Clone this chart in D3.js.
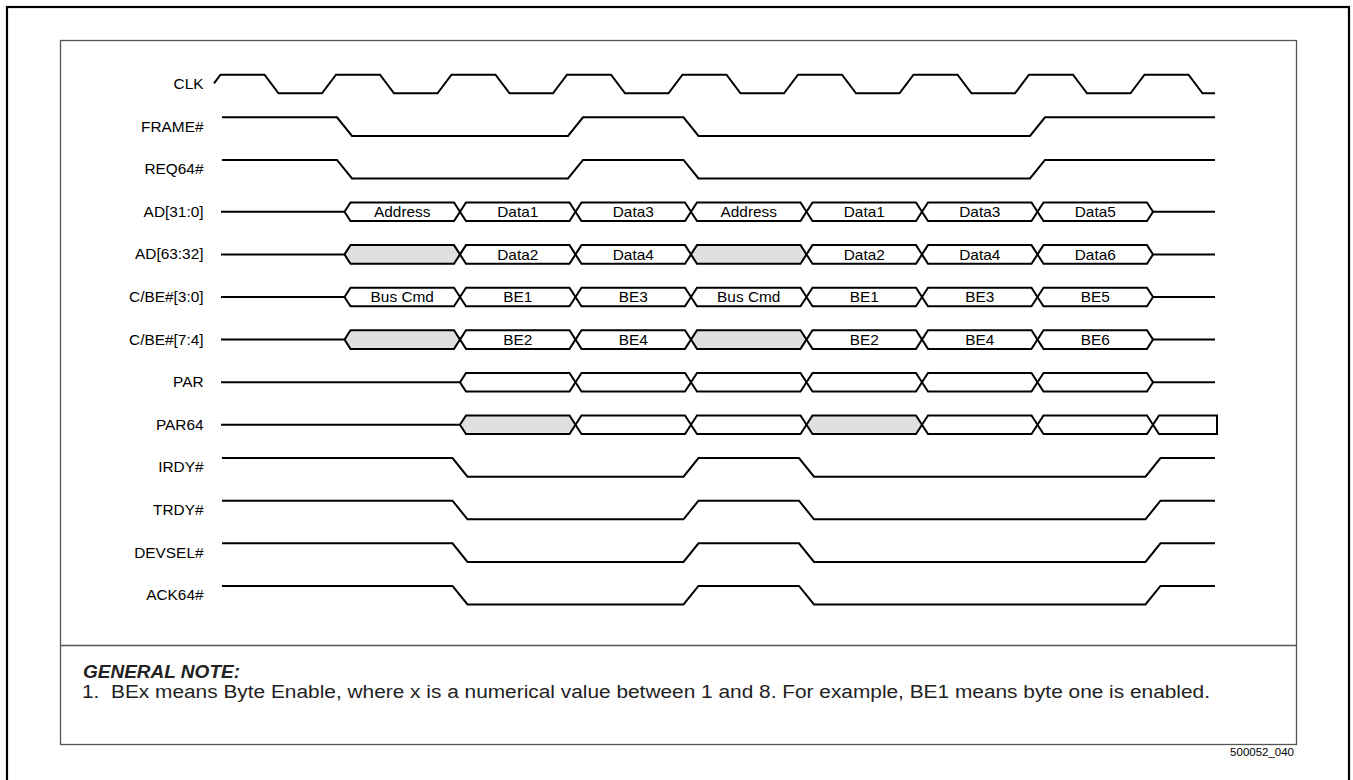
<!DOCTYPE html>
<html><head><meta charset="utf-8">
<script src="https://cdn.jsdelivr.net/npm/d3@7"></script>
<style>body{margin:0;background:#fff}svg{display:block}</style>
</head><body>
<svg id="c" width="1353" height="780"></svg>
<script>
// ---------- DATA ----------
const signals = ["CLK","FRAME#","REQ64#","AD[31:0]","AD[63:32]","C/BE#[3:0]","C/BE#[7:4]","PAR","PAR64","IRDY#","TRDY#","DEVSEL#","ACK64#"];
const clockCycles = [0,1,2,3,4,5,6,7,8];
// digital signals: start high, toggle at these clock cycles
const frameEdges  = [1,3,4,7];
const req64Edges  = [1,3,4,7];
const irdyEdges   = [2,4,5,8];
const trdyEdges   = [2,4,5,8];
const devselEdges = [2,4,5,8];
const ack64Edges  = [2,4,5,8];
// buses: first valid cycle, one entry per phase (null = shaded / not driven)
const adLowStart = 1,   adLowPhases   = ["Address","Data1","Data3","Address","Data1","Data3","Data5"];
const adHighStart = 1,  adHighPhases  = [null,"Data2","Data4",null,"Data2","Data4","Data6"];
const cbeLowStart = 1,  cbeLowPhases  = ["Bus Cmd","BE1","BE3","Bus Cmd","BE1","BE3","BE5"];
const cbeHighStart = 1, cbeHighPhases = [null,"BE2","BE4",null,"BE2","BE4","BE6"];
const parStart = 2,     parPhases     = ["","","","","",""];
const par64Start = 2,   par64Phases   = [null,"","",null,"","",""]; // last phase runs to the end
const noteTitle = "GENERAL NOTE:";
const noteText = "1.  BEx means Byte Enable, where x is a numerical value between 1 and 8. For example, BE1 means byte one is enabled.";
const figId = "500052_040";

// ---------- SCALES ----------
const svg = d3.select("#c");
const x = d3.scaleLinear().domain([0, 8]).range([229, 1153]);
const y = d3.scalePoint().domain(signals).range([84, 595.2]);
const P = x(1) - x(0);
const H = 9.3;              // half swing
const tStart = x.invert(221), tEnd = x.invert(1215);
const SX = 1.1;             // horizontal text stretch
const FS = "14px";
const FONT = "'Liberation Sans', Arial, Helvetica, sans-serif";

// frames
svg.append("rect").attr("x",7).attr("y",7).attr("width",1342).attr("height",800)
  .attr("fill","none").attr("stroke","#000").attr("stroke-width",2.2);
svg.append("rect").attr("x",60.5).attr("y",40.5).attr("width",1236).attr("height",704)
  .attr("fill","none").attr("stroke","#555").attr("stroke-width",1.3);
svg.append("line").attr("x1",60.5).attr("x2",1296.5).attr("y1",645.5).attr("y2",645.5)
  .attr("stroke","#555").attr("stroke-width",1.3);

const g = svg.append("g");
const line = d3.line();
function stroke(sel){ return sel.attr("fill","none").attr("stroke","#000").attr("stroke-width",2).attr("stroke-linejoin","miter"); }

// labels
signals.forEach(s => {
  g.append("text").attr("transform",`translate(203.5,${y(s)}) scale(${SX},1)`)
    .attr("text-anchor","end").attr("dy","0.36em")
    .style("font-family",FONT).style("font-size",FS).text(s);
});

// clock
(function(){
  const c = y("CLK"), hi = c - H, lo = c + H;
  const pts = [];
  const r0 = x(0) - 8.5 - 14;  // rise start pixel for cycle 0
  const sx = x(tStart) - 7;
  pts.push([sx, lo - (sx - r0)/14*(lo-hi)]);
  clockCycles.forEach(k => {
    const h0 = x(k) - 8.5;
    if (k > 0) pts.push([h0 - 14, lo]);
    pts.push([h0, hi]);
    pts.push([h0 + 44, hi]);
    pts.push([h0 + 58, lo]);
  });
  pts.push([x(tEnd), lo]);
  stroke(g.append("path").attr("d", line(pts)));
})();

// digital signals
function digital(name, edges){
  const c = y(name);
  let lvl = c - H;
  const pts = [[x(tStart) + 1, lvl]];
  edges.forEach(k => {
    const nl = (lvl < c) ? c + H : c - H;
    pts.push([x(k) - 7.5, lvl]);
    pts.push([x(k) + 7.5, nl]);
    lvl = nl;
  });
  pts.push([x(tEnd), lvl]);
  stroke(g.append("path").attr("d", line(pts)));
}
digital("FRAME#", frameEdges);
digital("REQ64#", req64Edges);
digital("IRDY#", irdyEdges);
digital("TRDY#", trdyEdges);
digital("DEVSEL#", devselEdges);
digital("ACK64#", ack64Edges);

// buses
function bus(name, start, phases, openEnd){
  const c = y(name), w = 6;
  stroke(g.append("path").attr("d", line([[x(tStart), c],[x(start), c]])));
  phases.forEach((lab, i) => {
    const xl = x(start + i);
    const last = openEnd && i === phases.length - 1;
    const xr = last ? x(tEnd) + 2 : x(start + i + 1);
    const pts = last
      ? [[xl,c],[xl+w,c-H],[xr,c-H],[xr,c+H],[xl+w,c+H]]
      : [[xl,c],[xl+w,c-H],[xr-w,c-H],[xr,c],[xr-w,c+H],[xl+w,c+H]];
    stroke(g.append("path").attr("d", line(pts) + "Z"))
      .attr("fill", lab === null ? "#e0e0e0" : "#fff");
    if (lab) {
      g.append("text").attr("transform",`translate(${(xl+xr)/2},${c}) scale(${SX},1)`)
        .attr("text-anchor","middle").attr("dy","0.38em")
        .style("font-family",FONT).style("font-size",FS).text(lab);
    }
  });
  if (!openEnd)
    stroke(g.append("path").attr("d", line([[x(start + phases.length), c],[x(tEnd), c]])));
}
bus("AD[31:0]", adLowStart, adLowPhases, false);
bus("AD[63:32]", adHighStart, adHighPhases, false);
bus("C/BE#[3:0]", cbeLowStart, cbeLowPhases, false);
bus("C/BE#[7:4]", cbeHighStart, cbeHighPhases, false);
bus("PAR", parStart, parPhases, false);
bus("PAR64", par64Start, par64Phases, true);

// notes
svg.append("text").attr("x",83).attr("y",678)
  .attr("textLength",157).attr("lengthAdjust","spacingAndGlyphs")
  .style("font-family",FONT).style("font-size","18.5px").style("font-weight","bold").style("font-style","italic")
  .attr("fill","#222").text(noteTitle);
svg.append("text").attr("x",82).attr("y",697.5).attr("xml:space","preserve")
  .attr("textLength",1128).attr("lengthAdjust","spacingAndGlyphs")
  .style("font-family",FONT).style("font-size","18px").style("white-space","pre")
  .attr("fill","#222").text(noteText);
svg.append("text").attr("transform","translate(1294,756) scale(1.15,1)").attr("text-anchor","end")
  .style("font-family",FONT).style("font-size","10px").text(figId);
</script>
</body></html>
